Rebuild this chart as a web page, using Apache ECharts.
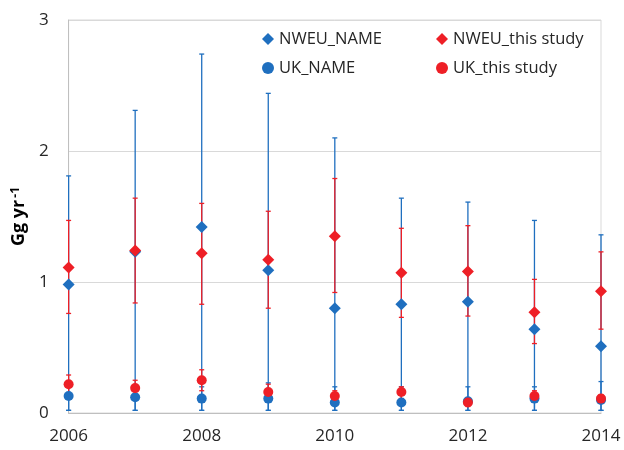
<!DOCTYPE html>
<html>
<head>
<meta charset="utf-8">
<script src="https://cdn.jsdelivr.net/npm/echarts@6/dist/echarts.min.js"></script>
<style>
  html, body { margin: 0; padding: 0; background: #fff; }
  #chart { width: 624px; height: 450px; }
</style>
</head>
<body>
<div id="chart"></div>
<script>
// Annual emission estimates (Gg yr-1) with uncertainty ranges
const years = [2006, 2007, 2008, 2009, 2010, 2011, 2012, 2013, 2014];

const nweuName     = [0.98, 1.23, 1.42, 1.09, 0.80, 0.83, 0.85, 0.64, 0.51];
const nweuNameHigh = [1.81, 2.31, 2.74, 2.44, 2.10, 1.64, 1.61, 1.47, 1.36];
const nweuNameLow  = [0.02, 0.02, 0.02, 0.02, 0.02, 0.02, 0.02, 0.02, 0.02];

const ukName     = [0.13, 0.12, 0.11, 0.11, 0.08, 0.08, 0.09, 0.11, 0.10];
const ukNameHigh = [0.20, 0.20, 0.20, 0.23, 0.20, 0.20, 0.20, 0.20, 0.24];
const ukNameLow  = [0.02, 0.02, 0.02, 0.02, 0.02, 0.02, 0.02, 0.02, 0.02];

const nweuStudy     = [1.11, 1.24, 1.22, 1.17, 1.35, 1.07, 1.08, 0.77, 0.93];
const nweuStudyHigh = [1.47, 1.64, 1.60, 1.54, 1.79, 1.41, 1.43, 1.02, 1.23];
const nweuStudyLow  = [0.76, 0.84, 0.83, 0.80, 0.92, 0.73, 0.74, 0.53, 0.64];

const ukStudy     = [0.22, 0.19, 0.25, 0.16, 0.13, 0.16, 0.08, 0.13, 0.11];
const ukStudyHigh = [0.29, 0.25, 0.33, 0.22, 0.17, 0.20, 0.11, 0.17, 0.14];
const ukStudyLow  = [0.15, 0.13, 0.17, 0.10, 0.09, 0.11, 0.05, 0.09, 0.08];

const yTicks = [0, 1, 2, 3];

const BLUE = '#1f6fbf';
const RED = '#ee1f26';
const FONT = 'Open Sans';

const points = (vals) => years.map((y, i) => [y, vals[i]]);
const ranges = (low, high) => years.map((y, i) => [y, low[i], high[i]]);

// Vertical error bar with small horizontal caps at both ends
function errorBar(color) {
  return function (params, api) {
    const x = api.value(0);
    const lo = api.coord([x, api.value(1)]);
    const hi = api.coord([x, api.value(2)]);
    const half = 2.5;
    const style = { stroke: color, lineWidth: 1.3, fill: null };
    return {
      type: 'group',
      children: [
        { type: 'line', shape: { x1: lo[0], y1: lo[1], x2: hi[0], y2: hi[1] }, style },
        { type: 'line', shape: { x1: hi[0] - half, y1: hi[1], x2: hi[0] + half, y2: hi[1] }, style },
        { type: 'line', shape: { x1: lo[0] - half, y1: lo[1], x2: lo[0] + half, y2: lo[1] }, style }
      ]
    };
  };
}

function barSeries(name, low, high, color, z) {
  return {
    name: name + ' range',
    type: 'custom',
    renderItem: errorBar(color),
    data: ranges(low, high),
    encode: { x: 0, y: [1, 2] },
    silent: true,
    z: z
  };
}

function markSeries(name, vals, symbol, size, color, z) {
  return {
    name: name,
    type: 'scatter',
    symbol: symbol,
    symbolSize: size,
    itemStyle: { color: color, opacity: 1 },
    data: points(vals),
    z: z
  };
}

const chart = echarts.init(document.getElementById('chart'), null, { renderer: 'canvas' });

const legendText = { fontFamily: FONT, fontSize: 16.5, color: '#262626', lineHeight: 18 };

chart.setOption({
  animation: false,
  backgroundColor: '#ffffff',
  grid: {
    left: 63, right: 23, top: 20, bottom: 37,
    show: true, borderColor: '#d9d9d9', borderWidth: 1
  },
  legend: [
    {
      data: [
        { name: 'NWEU_NAME', icon: 'diamond' },
        { name: 'UK_NAME', icon: 'circle' }
      ],
      orient: 'vertical', left: 262, top: 30, padding: 0,
      itemWidth: 12, itemHeight: 12, itemGap: 11,
      textStyle: legendText, selectedMode: false
    },
    {
      data: [
        { name: 'NWEU_this study', icon: 'diamond' },
        { name: 'UK_this study', icon: 'circle' }
      ],
      orient: 'vertical', left: 436, top: 30, padding: 0,
      itemWidth: 12, itemHeight: 12, itemGap: 11,
      textStyle: legendText, selectedMode: false
    }
  ],
  xAxis: {
    type: 'value',
    min: 2006, max: 2014, interval: 2,
    axisLine: { show: true, lineStyle: { color: '#bfbfbf', width: 1 } },
    axisTick: { show: false },
    splitLine: { show: false },
    axisLabel: {
      fontFamily: FONT, fontSize: 17, color: '#262626', margin: 15,
      formatter: (v) => String(v)
    }
  },
  yAxis: {
    type: 'value',
    min: yTicks[0], max: yTicks[yTicks.length - 1], interval: 1,
    axisLine: { show: true, lineStyle: { color: '#bfbfbf', width: 1 } },
    axisTick: { show: false },
    splitLine: { show: true, lineStyle: { color: '#d9d9d9', width: 1 } },
    axisLabel: { fontFamily: FONT, fontSize: 17, color: '#262626', margin: 20 },
    name: '{a|Gg yr}{b|-1}',
    nameLocation: 'middle',
    nameGap: 33,
    nameRotate: 90,
    nameTextStyle: {
      rich: {
        a: { fontFamily: FONT, fontSize: 18, fontWeight: 'bold', color: '#000', lineHeight: 20, verticalAlign: 'bottom' },
        b: { fontFamily: FONT, fontSize: 12, fontWeight: 'bold', color: '#000', lineHeight: 20, verticalAlign: 'top', padding: [2, 0, 0, 2] }
      }
    }
  },
  series: [
    barSeries('NWEU_NAME', nweuNameLow, nweuNameHigh, BLUE, 1),
    barSeries('UK_NAME', ukNameLow, ukNameHigh, BLUE, 1),
    barSeries('NWEU_this study', nweuStudyLow, nweuStudyHigh, RED, 2),
    barSeries('UK_this study', ukStudyLow, ukStudyHigh, RED, 2),
    markSeries('NWEU_NAME', nweuName, 'diamond', 12, BLUE, 3),
    markSeries('UK_NAME', ukName, 'circle', 10, BLUE, 3),
    markSeries('NWEU_this study', nweuStudy, 'diamond', 12, RED, 4),
    markSeries('UK_this study', ukStudy, 'circle', 10, RED, 4)
  ]
});
</script>
</body>
</html>
